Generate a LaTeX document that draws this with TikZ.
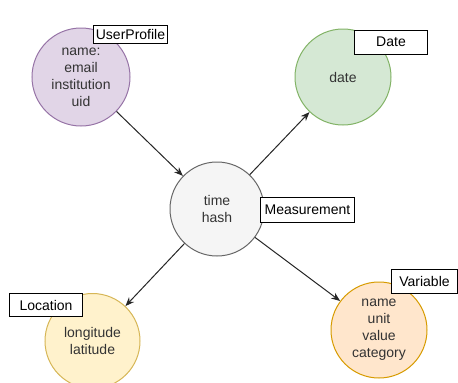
\documentclass[tikz,border=0pt]{standalone}
\usepackage{fontspec}
\setmainfont{Liberation Sans}
\usetikzlibrary{arrows.meta}
\definecolor{upF}{HTML}{E1D5E7}\definecolor{upD}{HTML}{9673A6}
\definecolor{dtF}{HTML}{D5E8D4}\definecolor{dtD}{HTML}{82B366}
\definecolor{msF}{HTML}{F5F5F5}\definecolor{msD}{HTML}{666666}
\definecolor{loF}{HTML}{FFF2CC}\definecolor{loD}{HTML}{D6B656}
\definecolor{vaF}{HTML}{FFE6CC}\definecolor{vaD}{HTML}{D79B00}
\definecolor{txt}{HTML}{333333}
\tikzset{
  ent/.style={circle, draw, line width=1pt, inner sep=0pt, align=center, text=txt,
    font=\fontsize{14}{17}\selectfont},
  tag/.style={draw=black, fill=white, line width=1pt, inner sep=0pt, anchor=north west,
    font=\fontsize{14}{17}\selectfont, text=black},
  link/.style={line width=1pt, draw=black!85, -{Stealth[length=9pt,width=7pt]}}
}
\begin{document}
\begin{tikzpicture}[x=1pt,y=-1pt]
\useasboundingbox (0,0) rectangle (458,383);
\node[ent, fill=upF, draw=upD, minimum size=98pt] (up) at (81,77) {name:\\email\\institution\\uid};
\node[ent, fill=dtF, draw=dtD, minimum size=96pt] (dt) at (343,77) {date};
\node[ent, fill=msF, draw=msD, minimum size=94pt] (ms) at (217,209) {time\\hash};
\node[ent, fill=loF, draw=loD, minimum size=95pt] (lo) at (92.5,341) {longitude\\latitude};
\node[ent, fill=vaF, draw=vaD, minimum size=96pt] (va) at (379,330) {name\\unit\\value\\category};
\node[tag, minimum width=74pt, minimum height=18pt] (tup) at (93,25) {UserProfile};
\node[tag, minimum width=73pt, minimum height=24pt] (tdt) at (354,29.5) {Date};
\node[tag, minimum width=94pt, minimum height=25pt] (tms) at (260,197) {Measurement};
\node[tag, minimum width=73pt, minimum height=23pt] (tlo) at (9,293) {Location};
\node[tag, minimum width=66pt, minimum height=24pt] (tva) at (391,269) {Variable};
\draw[link] (up) -- (ms);
\draw[link] (ms) -- (dt);
\draw[link] (ms) -- (lo);
\draw[link] (ms) -- (va);
\end{tikzpicture}
\end{document}
